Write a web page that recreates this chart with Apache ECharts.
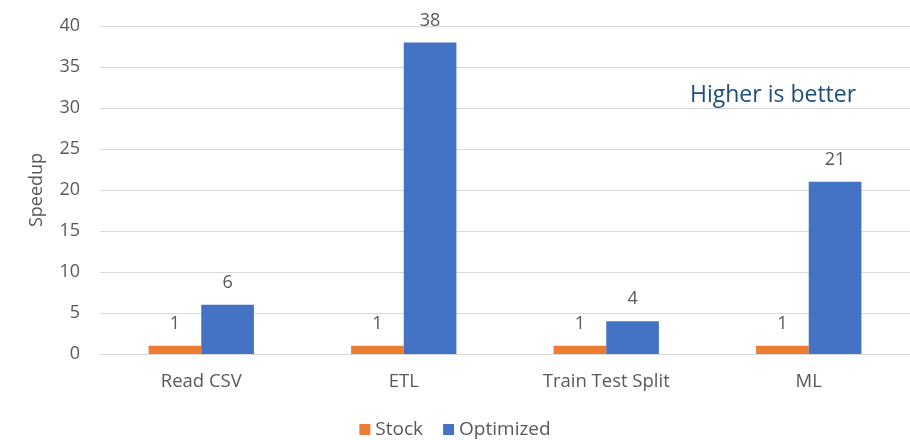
<!DOCTYPE html>
<html>
<head>
<meta charset="utf-8">
<script src="https://cdn.jsdelivr.net/npm/echarts@6/dist/echarts.min.js"></script>
<style>
  html, body { margin: 0; padding: 0; background: #ffffff; }
  #chart { width: 910px; height: 440px; }
</style>
</head>
<body>
<div id="chart"></div>
<script>
// Workload categories and measured speedups
const categories = ['Read CSV', 'ETL', 'Train Test Split', 'ML'];
const stockSpeedup = [1, 1, 1, 1];
const optimizedSpeedup = [6, 38, 4, 21];
const yTicks = { min: 0, max: 40, interval: 5 };

const FONT = '"Open Sans", "Noto Sans", sans-serif';
const labelStyle = {
  show: true,
  position: 'top',
  distance: 13,
  color: '#595959',
  fontSize: 18,
  fontFamily: FONT
};

const chart = echarts.init(document.getElementById('chart'), null, { renderer: 'canvas' });
chart.setOption({
  animation: false,
  backgroundColor: '#ffffff',
  textStyle: { fontFamily: FONT },
  grid: { left: 100, right: 0, top: 26, bottom: 86, containLabel: false },
  title: {
    text: 'Higher is better',
    left: 685,
    top: 79,
    textStyle: { color: '#1f4e79', fontSize: 23, fontWeight: 'normal', fontFamily: FONT }
  },
  legend: {
    top: 415,
    left: 'center',
    itemWidth: 11,
    itemHeight: 11,
    itemGap: 20,
    icon: 'rect',
    textStyle: { color: '#595959', fontSize: 19, fontFamily: FONT },
    data: ['Stock', 'Optimized']
  },
  xAxis: {
    type: 'category',
    data: categories,
    axisLine: { show: true, lineStyle: { color: '#d9d9d9', width: 1 } },
    axisTick: { show: false },
    axisLabel: { color: '#595959', fontSize: 18.5, margin: 18, fontFamily: FONT }
  },
  yAxis: {
    type: 'value',
    min: yTicks.min,
    max: yTicks.max,
    interval: yTicks.interval,
    name: 'Speedup',
    nameLocation: 'middle',
    nameGap: 54,
    nameRotate: 90,
    nameTextStyle: { color: '#595959', fontSize: 18, fontFamily: FONT },
    axisLine: { show: false },
    axisTick: { show: false },
    axisLabel: { color: '#595959', fontSize: 18, margin: 20, fontFamily: FONT },
    splitLine: { lineStyle: { color: '#d9d9d9', width: 1 } }
  },
  series: [
    {
      name: 'Stock',
      type: 'bar',
      data: stockSpeedup,
      barGap: '0%',
      barCategoryGap: '48%',
      itemStyle: { color: '#ed7d31' },
      label: labelStyle
    },
    {
      name: 'Optimized',
      type: 'bar',
      data: optimizedSpeedup,
      barGap: '0%',
      barCategoryGap: '48%',
      itemStyle: { color: '#4472c4' },
      label: labelStyle
    }
  ]
});
</script>
</body>
</html>
